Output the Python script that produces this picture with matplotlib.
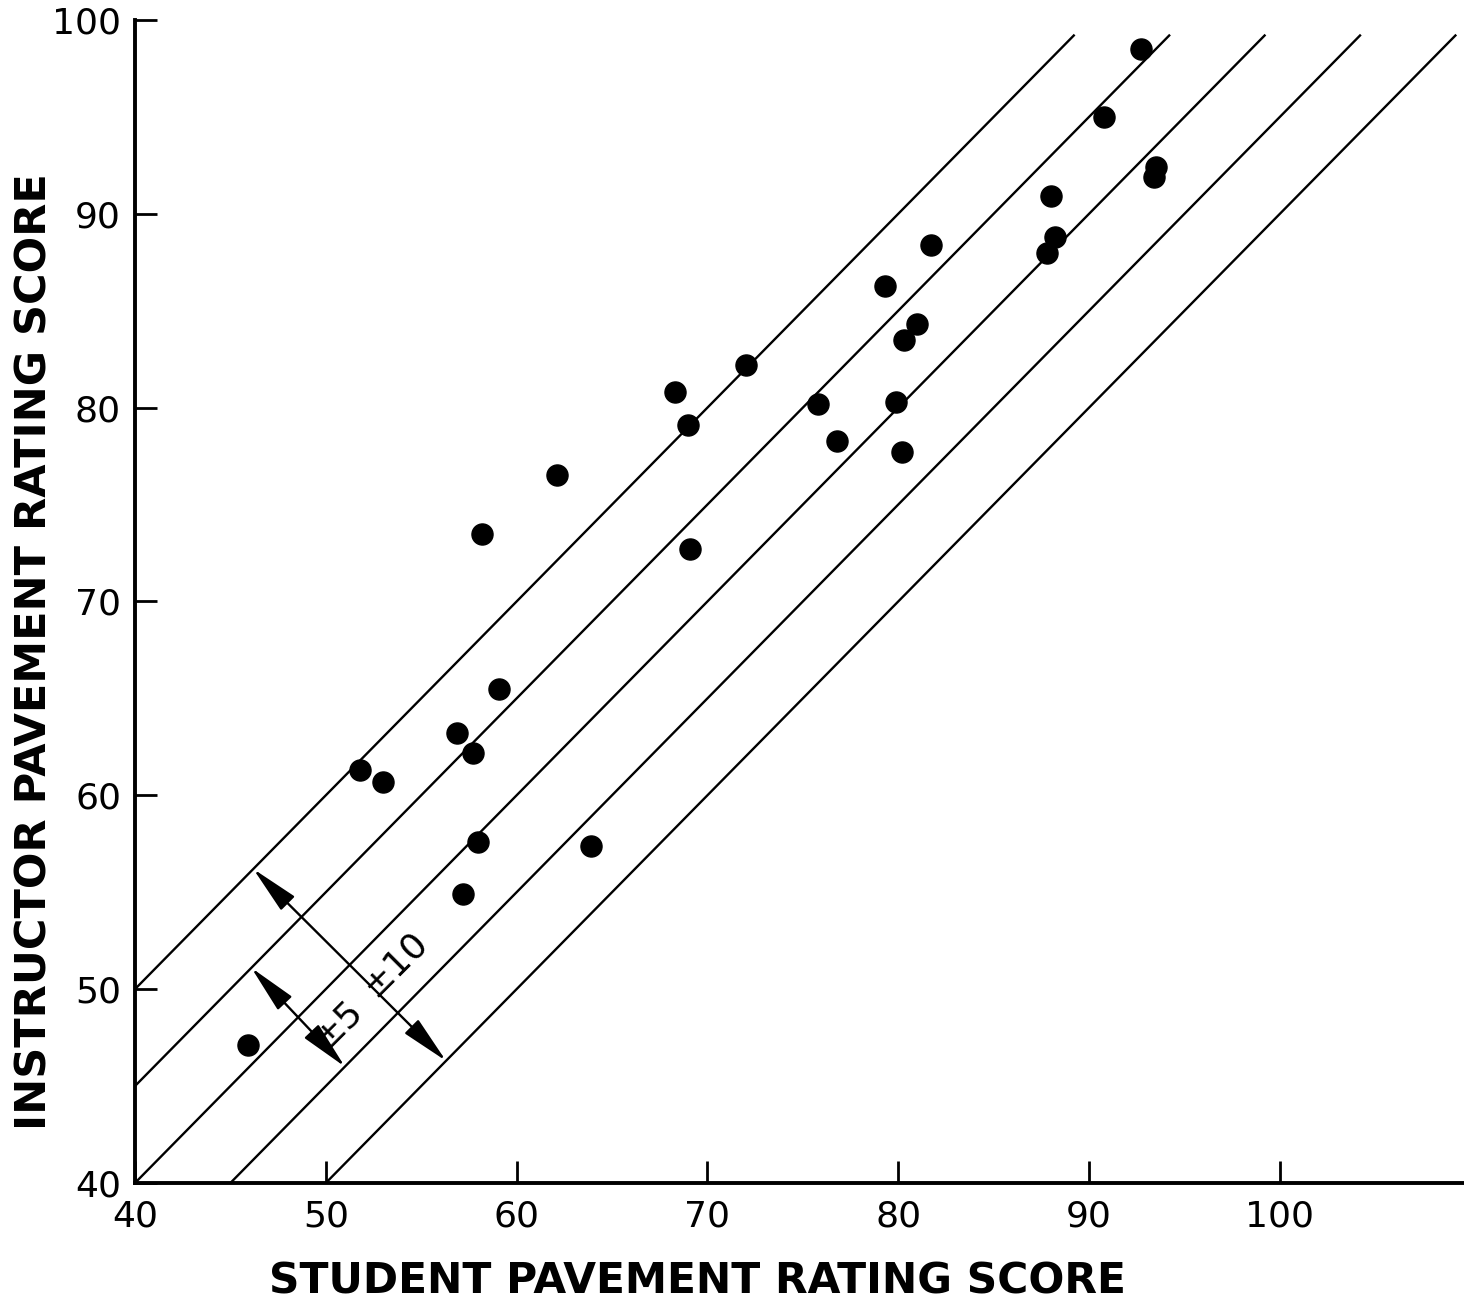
import matplotlib
matplotlib.use("Agg")
import matplotlib.pyplot as plt
import numpy as np

# Student vs instructor pavement rating scores
student = [92.7, 90.8, 93.5, 93.4, 88.0, 88.2, 87.8, 81.7, 79.3, 81.0,
           80.3, 79.9, 80.2, 75.8, 76.8, 72.0, 68.3, 69.0, 69.1, 62.1,
           58.2, 59.1, 56.9, 57.7, 51.8, 53.0, 58.0, 63.9, 57.2, 45.9]
instructor = [98.5, 95.0, 92.4, 91.9, 90.9, 88.8, 88.0, 88.4, 86.3, 84.3,
              83.5, 80.3, 77.7, 80.2, 78.3, 82.2, 80.8, 79.1, 72.7, 76.5,
              73.5, 65.5, 63.2, 62.2, 61.3, 60.7, 57.6, 57.4, 54.9, 47.1]

# offsets of the agreement bands
offsets = [10, 5, 0, -5, -10]
line_top = 99.2

x_ticks = [40, 50, 60, 70, 80, 90, 100]
y_ticks = [40, 50, 60, 70, 80, 90, 100]

plt.rcParams['font.family'] = ['DejaVu Sans']

fig = plt.figure(figsize=(14.64, 13.06), dpi=100)
ax = fig.add_axes([0.0922, 0.0942, 0.9078, 0.8905])

for off in offsets:
    x0 = max(40, 40 - off)
    x1 = line_top - off
    ax.plot([x0, x1], [x0 + off, x1 + off], color='black', lw=1.7)

ax.scatter(student, instructor, s=230, color='black', zorder=3)

# band arrows
arrow_style = '<|-|>,head_length=1.5,head_width=0.3'
ax.annotate('', xy=(46.2, 56.2), xytext=(56.3, 46.3),
            arrowprops=dict(arrowstyle=arrow_style, lw=1.7, color='black',
                            shrinkA=0, shrinkB=0, mutation_scale=20))
ax.annotate('', xy=(46.1, 51.1), xytext=(51.0, 46.0),
            arrowprops=dict(arrowstyle=arrow_style, lw=1.7, color='black',
                            shrinkA=0, shrinkB=0, mutation_scale=20))
ax.text(53.6, 51.3, '±10', fontsize=26, rotation=45, ha='center', va='center')
ax.text(50.6, 48.2, '±5', fontsize=26, rotation=45, ha='center', va='center')

ax.set_xlim(40, 109.65)
ax.set_ylim(40, 100)
ax.set_xticks(x_ticks)
ax.set_yticks(y_ticks)
ax.spines['top'].set_visible(False)
ax.spines['right'].set_visible(False)
ax.spines['left'].set_linewidth(2.8)
ax.spines['bottom'].set_linewidth(2.8)
ax.tick_params(direction='in', length=16, width=2, labelsize=26)
ax.tick_params(axis='x', pad=12)
ax.tick_params(axis='y', pad=10)

ax.set_xlabel('STUDENT PAVEMENT RATING SCORE', fontsize=30.5, fontweight='bold')
ax.set_ylabel('INSTRUCTOR PAVEMENT RATING SCORE', fontsize=31, fontweight='bold')
ax.xaxis.set_label_coords(0.423, -0.067)
ax.yaxis.set_label_coords(-0.060, 0.457)

fig.savefig('out.png', dpi=100)
